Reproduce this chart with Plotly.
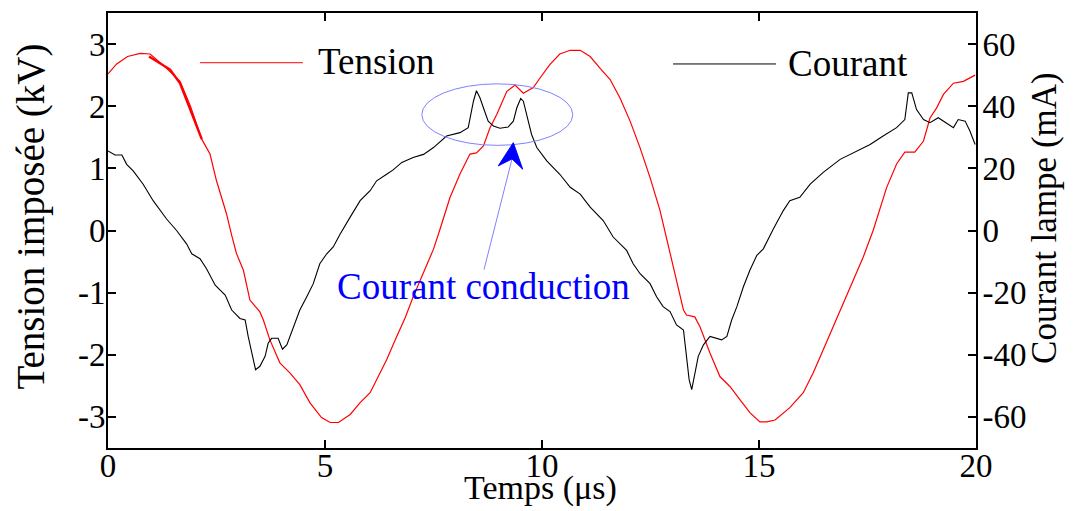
import plotly.graph_objects as go

# ---------------- data ----------------
t_tension = [0, 0.2, 0.45, 0.74, 0.97, 1.35, 1.66, 1.9, 2.16, 2.35, 2.50, 2.73, 2.85, 2.96,
             3.12, 3.27, 3.50, 3.58, 3.73, 3.96, 4.19, 4.42, 4.65, 4.92, 5.12, 5.31, 5.58,
             5.81, 6.04, 6.19, 6.42, 6.65, 6.85, 7.03, 7.27, 7.50, 7.65, 7.88, 8.11, 8.34,
             8.49, 8.65, 8.80, 8.96, 9.19, 9.38, 9.57, 9.80, 9.95, 10.18, 10.41, 10.65,
             10.88, 11.11, 11.34, 11.57, 11.80, 12.03, 12.26, 12.49, 12.72, 12.83, 12.95,
             13.10, 13.26, 13.33, 13.52, 13.64, 13.87, 14.10, 14.33, 14.56, 14.79, 15.02,
             15.18, 15.37, 15.71, 16.02, 16.25, 16.48, 16.71, 16.94, 17.17, 17.40, 17.63,
             17.71, 17.94, 18.17, 18.36, 18.59, 18.79, 18.94, 19.09, 19.25, 19.48, 19.71, 19.98]
v_tension = [2.52, 2.68, 2.80, 2.85, 2.84, 2.61, 2.40, 2.00, 1.47, 1.23, 0.80, 0.27, -0.08, -0.37,
             -0.64, -1.12, -1.31, -1.44, -1.76, -2.13, -2.29, -2.48, -2.77, -3.01, -3.09, -3.09, -2.96,
             -2.77, -2.61, -2.40, -2.08, -1.71, -1.40, -1.07, -0.69, -0.30, 0.02, 0.53, 0.91, 1.23,
             1.25, 1.36, 1.65, 1.87, 2.24, 2.34, 2.21, 2.30, 2.45, 2.67, 2.84, 2.90,
             2.90, 2.80, 2.61, 2.43, 2.13, 1.76, 1.33, 0.85, 0.32, 0.00, -0.37,
             -0.80, -1.28, -1.36, -1.39, -1.55, -1.97, -2.35, -2.51, -2.72, -2.93, -3.08,
             -3.08, -3.05, -2.85, -2.61, -2.29, -1.92, -1.55, -1.17, -0.80, -0.43, 0.00,
             0.17, 0.69, 1.07, 1.26, 1.26, 1.44, 1.81, 1.97, 2.19, 2.37, 2.40, 2.50]

# thicker red stroke drawn over the start of the voltage curve
t_tension_trait = [0.945, 1.43, 1.66, 1.85, 2.16]
v_tension_trait = [2.80, 2.59, 2.37, 2.03, 1.47]

t_courant = [0, 0.16, 0.32, 0.43, 0.58, 0.81, 1.04, 1.35, 1.58, 1.81, 1.93, 2.12, 2.27, 2.47,
             2.70, 2.85, 3.04, 3.16, 3.23, 3.33, 3.40, 3.50, 3.62, 3.69, 3.77, 3.92, 4.02,
             4.12, 4.27, 4.42, 4.58, 4.73, 4.88, 5.04, 5.19, 5.35, 5.58, 5.81, 6.04, 6.19,
             6.42, 6.57, 6.77, 7.03, 7.27, 7.50, 7.80, 8.11, 8.30, 8.34, 8.42, 8.49, 8.57,
             8.65, 8.76, 8.88, 9.03, 9.22, 9.34, 9.42, 9.51, 9.57, 9.65, 9.76, 9.88, 10.11,
             10.41, 10.65, 10.88, 11.11, 11.41, 11.64, 11.95, 12.10, 12.26, 12.49, 12.64,
             12.79, 12.95, 13.10, 13.26, 13.33, 13.39, 13.45, 13.52, 13.60, 13.72, 13.87,
             14.14, 14.26, 14.37, 14.49, 14.64, 14.79, 14.95, 15.10, 15.33, 15.56, 15.71,
             15.94, 16.18, 16.48, 16.87, 17.25, 17.56, 17.86, 18.17, 18.36, 18.44, 18.52,
             18.63, 18.79, 18.94, 19.13, 19.32, 19.48, 19.59, 19.75, 19.86, 19.98]
i_courant = [25.6, 24.3, 24.3, 21.3, 19.2, 14.9, 9.6, 3.7, 0.0, -4.3, -7.5, -9.1, -12.3, -17.6,
             -20.8, -25.6, -28.3, -28.8, -34.1, -40.5, -44.8, -43.7, -40.5, -36.3, -34.7, -34.7, -38.2,
             -36.8, -30.9, -25.6, -21.3, -17.1, -10.7, -7.5, -5.3, -1.1, 4.3, 9.6, 12.8, 16.0,
             18.1, 19.5, 21.9, 23.5, 24.5, 26.7, 30.4, 31.5, 33.1, 36.3, 41.6, 45.0, 42.7,
             39.5, 35.2, 33.6, 32.9, 33.3, 35.2, 39.5, 42.5, 41.6, 37.3, 30.9, 26.7, 22.4,
             18.1, 13.9, 11.7, 7.5, 3.2, -2.1, -6.4, -10.7, -13.9, -17.1, -21.3,
             -24.5, -26.1, -30.4, -32.0, -40.5, -48.0, -51.2, -46.4, -40.5, -36.8, -34.1,
             -35.2, -34.1, -28.8, -24.5, -18.1, -12.8, -8.0, -5.9, 0.5, 6.4, 9.6,
             10.7, 14.9, 18.7, 22.9, 25.6, 27.7, 30.4, 33.1, 35.7, 44.3, 44.3,
             38.9, 35.7, 34.7, 36.3, 34.7, 33.1, 35.7, 35.2, 32.0, 27.7]

x_ticks = [0, 5, 10, 15, 20]
x_ticklabels = ["0", "5", "10", "15", "20"]
v_ticks = [-3, -2, -1, 0, 1, 2, 3]
v_ticklabels = ["-3", "-2", "-1", "0", "1", "2", "3"]
i_ticks = [-60, -40, -20, 0, 20, 40, 60]
i_ticklabels = ["-60", "-40", "-20", "0", "20", "40", "60"]

FONT = "Liberation Serif, Times New Roman, serif"

fig = go.Figure()
fig.add_trace(go.Scatter(x=t_tension, y=v_tension, mode="lines", name="Tension",
                         line=dict(color="#ff0000", width=1.2), yaxis="y"))
fig.add_trace(go.Scatter(x=t_tension_trait, y=v_tension_trait, mode="lines", name="Tension (trait)",
                         line=dict(color="#ff0000", width=2.4), yaxis="y"))
fig.add_trace(go.Scatter(x=t_courant, y=i_courant, mode="lines", name="Courant",
                         line=dict(color="#000000", width=1.1), yaxis="y2"))

# legend-like decorations (as in the original figure)
fig.add_shape(type="line", xref="x", yref="y", x0=2.12, x1=4.49, y0=2.70, y1=2.70,
              line=dict(color="#ff0000", width=1))
fig.add_shape(type="line", xref="x", yref="y", x0=13.02, x1=15.39, y0=2.68, y1=2.68,
              line=dict(color="#000000", width=1))
fig.add_annotation(x=4.80, y=2.72, xref="x", yref="y", text="Tension", showarrow=False,
                   xanchor="left", yanchor="middle", font=dict(family=FONT, size=37, color="black"))
fig.add_annotation(x=15.63, y=2.69, xref="x", yref="y", text="Courant", showarrow=False,
                   xanchor="left", yanchor="middle", font=dict(family=FONT, size=37, color="black"))

# ellipse + arrow + label
fig.add_shape(type="circle", xref="x", yref="y", x0=7.23, x1=10.71, y0=1.37, y1=2.36,
              line=dict(color="#8080ff", width=1))
fig.add_shape(type="line", xref="x", yref="y", x0=8.664, y0=-0.629, x1=9.309, y1=1.152,
              line=dict(color="#8080ff", width=1))
fig.add_shape(type="path", xref="x", yref="y",
              path="M 9.339 1.413 L 8.993 1.04 L 9.309 1.152 L 9.555 0.987 Z",
              fillcolor="#0000ff", line=dict(color="#0000ff", width=1))
fig.add_annotation(x=8.65, y=-0.90, xref="x", yref="y", text="Courant conduction", showarrow=False,
                   xanchor="center", yanchor="middle", font=dict(family=FONT, size=37, color="#0000ff"))

# axis titles
fig.add_annotation(x=0.4988, y=-0.0915, xref="paper", yref="paper", text="Temps (μs)", showarrow=False,
                   xanchor="center", yanchor="middle", font=dict(family=FONT, size=34, color="black"))
fig.add_annotation(x=-0.0887, y=0.532, xref="paper", yref="paper", text="Tension imposée (kV)",
                   showarrow=False, textangle=-90, xanchor="center", yanchor="middle",
                   font=dict(family=FONT, size=39, color="black"))
fig.add_annotation(x=1.0795, y=0.529, xref="paper", yref="paper", text="Courant lampe (mA)",
                   showarrow=False, textangle=-90, xanchor="center", yanchor="middle",
                   font=dict(family=FONT, size=35, color="black"))

axis_common = dict(showgrid=False, zeroline=False, linecolor="black", linewidth=2,
                   ticks="inside", ticklen=8, tickwidth=1.5, tickcolor="black",
                   tickfont=dict(family=FONT, size=33, color="black"))

# the page body has an 8 px margin: offset the figure so that the plot area
# lands at x 108..976, y 11..448 in the 1077x511 window
fig.update_layout(
    width=1069, height=503,
    margin=dict(l=100, r=101, t=3, b=63),
    paper_bgcolor="white", plot_bgcolor="white",
    showlegend=False,
    xaxis=dict(range=[0, 20], tickvals=x_ticks, ticktext=x_ticklabels, mirror="ticks",
               ticklabelstandoff=-13, **axis_common),
    yaxis=dict(range=[-3.5, 3.5], tickvals=v_ticks, ticktext=v_ticklabels, mirror=True,
               ticklabelstandoff=-6, **axis_common),
    yaxis2=dict(range=[-70, 70], tickvals=i_ticks, ticktext=i_ticklabels, overlaying="y",
                side="right", ticklabelstandoff=-2, **axis_common),
)

fig.write_html("out.html")
